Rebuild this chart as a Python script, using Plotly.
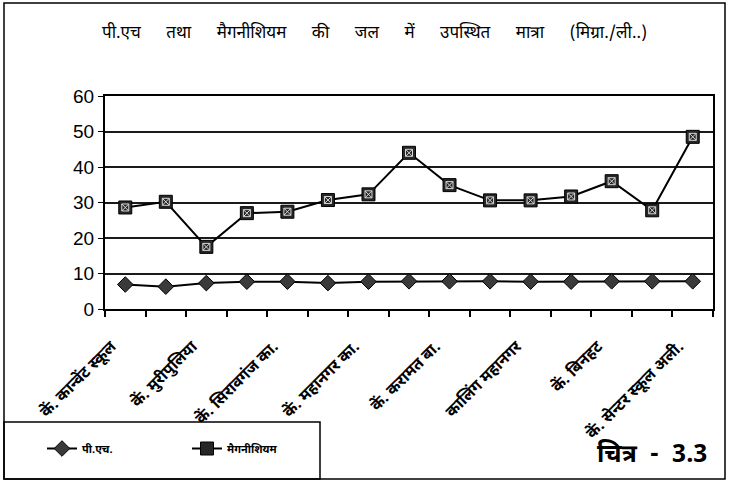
import plotly.graph_objects as go

# Sampling sites (15) and measured values
sites = [
    "कें. कान्वेंट स्कूल", "", "कें. मुरीपुलिया", "", "कें. सिरावगंज का.", "",
    "कें. महानगर का.", "", "कें. करामत बा.", "", "कालिंग महानगर", "",
    "कें. बिनहट", "", "कें. सेन्टर स्कूल अली.",
]
ph = [6.9, 6.3, 7.3, 7.7, 7.7, 7.3, 7.7, 7.8, 7.8, 7.8, 7.7, 7.7, 7.8, 7.8, 7.8]
magnesium = [28.6, 30.2, 17.5, 27.0, 27.4, 30.7, 32.3, 44.0, 34.9, 30.6, 30.6, 31.7, 36.0, 27.8, 48.5]
y_ticks = [0, 10, 20, 30, 40, 50, 60]

title_words = ["पी.एच", "तथा", "मैगनीशियम", "की", "जल", "में", "उपस्थित", "मात्रा", "(मिग्रा./ली..)"]
figure_label = "चित्र  -  3.3"

W, H = 729, 482
ML, MR, MT, MB = 105, 16, 96, 173
PW, PH = W - ML - MR, H - MT - MB

def px(x):
    return (x - ML) / PW

def py(y):
    return (H - MB - y) / PH

DEV = "Noto Sans Devanagari, Lohit Devanagari, Mangal, sans-serif"
n = len(sites)
xs = list(range(1, n + 1))

fig = go.Figure()
fig.add_trace(go.Scatter(
    x=xs, y=ph, name="<b>पी.एच.</b>", mode="lines+markers",
    line=dict(color="black", width=2),
    marker=dict(symbol="diamond", size=12, color="#3a3a3a",
                line=dict(color="black", width=1)),
))
fig.add_trace(go.Scatter(
    x=xs, y=magnesium, name="<b>मैगनीशियम</b>", mode="lines+markers",
    line=dict(color="black", width=2),
    marker=dict(symbol="square", size=13, color="#262626",
                line=dict(color="black", width=1)),
))
# light dotted centre of the square markers
fig.add_trace(go.Scatter(
    x=xs, y=magnesium, mode="markers", showlegend=False, hoverinfo="skip",
    marker=dict(symbol="square-x-open", size=7, color="#d8d8d8",
                line=dict(width=1)),
))

label_vals = [i + 1 for i, s in enumerate(sites) if s]
label_text = [s for s in sites if s]

fig.update_layout(
    width=W, height=H,
    margin=dict(l=ML, r=MR, t=MT, b=MB),
    paper_bgcolor="white", plot_bgcolor="white",
    showlegend=True,
    legend=dict(orientation="h", x=px(42), y=py(434), xanchor="left", yanchor="top",
                font=dict(family=DEV, size=11, color="black"),
                entrywidth=100, bgcolor="rgba(0,0,0,0)"),
    xaxis=dict(
        range=[0.5, n + 0.5], tickmode="array",
        tickvals=[i + 0.5 for i in range(n + 1)], ticktext=[""] * (n + 1),
        ticks="outside", ticklen=6, tickcolor="black", tickwidth=1.5,
        showgrid=False, showline=True, linecolor="black", linewidth=2,
        mirror=True, zeroline=False,
    ),
    xaxis2=dict(
        overlaying="x", matches="x", side="bottom", range=[0.5, n + 0.5],
        tickmode="array", tickvals=label_vals, ticktext=label_text,
        tickangle=-45, ticks="", showgrid=False, showline=False, zeroline=False,
        ticklabelstandoff=24, ticklabelshift=-14,
        tickfont=dict(family=DEV, size=16, color="black", weight="bold"),
    ),
    yaxis=dict(
        range=[0, 60], tickmode="array", tickvals=y_ticks,
        ticks="outside", ticklen=5, tickcolor="black",
        showgrid=True, gridcolor="#1a1a1a", gridwidth=1.5,
        showline=True, linecolor="black", linewidth=2, mirror=True,
        zeroline=False,
        tickfont=dict(family="Liberation Sans, Arial, sans-serif", size=19, color="black"),
    ),
    annotations=[
        dict(text="\u2002\u2002\u2002".join(title_words), xref="paper", yref="paper",
             x=px(374), y=py(33), xanchor="center", yanchor="middle",
             showarrow=False, font=dict(family=DEV, size=17, color="black")),
        dict(text="<b>" + figure_label + "</b>", xref="paper", yref="paper",
             x=px(652), y=py(455), xanchor="center", yanchor="middle", showarrow=False,
             font=dict(family=DEV, size=25, color="black")),
    ],
    shapes=[
        dict(type="rect", xref="paper", yref="paper",
             x0=px(4), x1=px(725), y0=py(479), y1=py(3),
             line=dict(color="black", width=1.5)),
        dict(type="rect", xref="paper", yref="paper",
             x0=px(4), x1=px(320), y0=py(479), y1=py(422),
             line=dict(color="black", width=1.5)),
    ],
)
# dummy trace to activate the label axis
fig.add_trace(go.Scatter(x=[1], y=[None], xaxis="x2", showlegend=False, hoverinfo="skip"))

fig.write_html("out.html")
